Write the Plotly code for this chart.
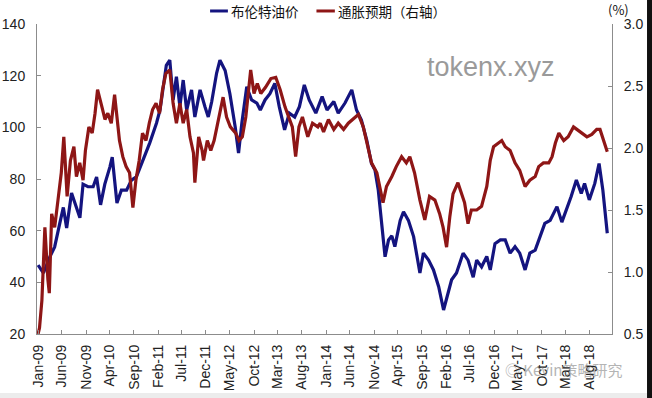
import plotly.graph_objects as go

# ---- Brent oil price (left axis, USD/bbl) ----
brent_dates = [
    "2009-01-01", "2009-02-04", "2009-03-16", "2009-04-16", "2009-05-19", "2009-06-10",
    "2009-07-01", "2009-08-01", "2009-09-01", "2009-09-23", "2009-10-13", "2009-11-13",
    "2009-12-16", "2010-01-07", "2010-02-01", "2010-02-28", "2010-04-01", "2010-04-16",
    "2010-05-16", "2010-06-13", "2010-07-16", "2010-08-16", "2010-09-16", "2010-10-28",
    "2010-12-10", "2011-01-22", "2011-02-13", "2011-03-25", "2011-04-16", "2011-05-07",
    "2011-05-28", "2011-06-19", "2011-07-10", "2011-08-01", "2011-09-01", "2011-09-22",
    "2011-10-25", "2011-11-25", "2011-12-16", "2012-01-07", "2012-02-07", "2012-02-28",
    "2012-04-01", "2012-05-01", "2012-06-04", "2012-06-25", "2012-07-16", "2012-08-16",
    "2012-09-16", "2012-10-19", "2012-11-10", "2012-12-10", "2013-01-10", "2013-02-10",
    "2013-03-10", "2013-04-13", "2013-05-13", "2013-06-16", "2013-07-16", "2013-08-16",
    "2013-09-16", "2013-10-28", "2013-12-07", "2014-01-07", "2014-02-19", "2014-03-19",
    "2014-05-01", "2014-06-13", "2014-07-13", "2014-08-13", "2014-09-16", "2014-10-16",
    "2014-11-07", "2014-11-28", "2014-12-19", "2015-01-10", "2015-02-01", "2015-02-22",
    "2015-03-13", "2015-04-16", "2015-05-07", "2015-06-07", "2015-07-10", "2015-08-19",
    "2015-09-10", "2015-10-13", "2015-11-13", "2015-12-16", "2016-01-16", "2016-02-07",
    "2016-02-25", "2016-03-07", "2016-04-07", "2016-05-19", "2016-06-19", "2016-07-22",
    "2016-08-13", "2016-09-13", "2016-10-16", "2016-11-07", "2016-12-07", "2017-01-10",
    "2017-02-10", "2017-03-13", "2017-04-13", "2017-05-13", "2017-06-16", "2017-07-16",
    "2017-08-19", "2017-09-19", "2017-10-19", "2017-11-22", "2018-01-04", "2018-02-04",
    "2018-03-04", "2018-04-04", "2018-05-07", "2018-06-07", "2018-06-28", "2018-07-28",
    "2018-09-01", "2018-09-28", "2018-10-22", "2018-11-19",
]
brent_values = [
    46.7, 43.6, 49.8, 53.7, 63.0, 69.0,
    61.0, 74.6, 69.0, 65.0, 78.0, 77.0,
    77.0, 80.8, 70.0, 78.0, 84.6, 88.5,
    70.7, 75.7, 75.7, 79.6, 80.8, 87.4,
    94.0, 101.7, 106.7, 124.0, 126.0, 110.6,
    119.6, 108.0, 118.3, 106.7, 114.5, 104.0,
    114.5, 108.0, 104.0, 110.0, 121.0, 126.0,
    122.0, 113.0, 100.0, 90.0, 101.7, 115.7,
    110.6, 109.4, 106.7, 110.6, 113.0, 117.0,
    108.0, 99.0, 105.5, 104.0, 108.0, 116.4,
    110.6, 105.5, 111.9, 106.7, 110.0, 105.5,
    109.4, 114.5, 106.7, 102.8, 95.0, 86.0,
    83.5, 75.7, 64.0, 49.9, 56.4, 58.0,
    53.8, 64.0, 67.3, 64.0, 57.7, 43.6,
    51.3, 48.6, 44.8, 38.3, 29.3, 34.4,
    38.3, 41.0, 43.6, 51.3, 48.6, 42.0,
    48.6, 46.0, 50.0, 44.8, 55.0, 56.4,
    56.4, 51.3, 53.8, 51.3, 44.8, 51.3,
    52.5, 57.7, 62.8, 64.0, 69.3, 63.3,
    67.8, 73.2, 79.6, 74.4, 78.3, 71.9,
    78.3, 86.0, 75.7, 59.0,
]

# ---- Inflation expectation (right axis, %) ----
infl_dates = [
    "2009-01-01", "2009-01-10", "2009-01-25", "2009-02-13", "2009-03-04", "2009-03-13",
    "2009-03-28", "2009-04-16", "2009-05-07", "2009-05-28", "2009-06-13", "2009-07-04",
    "2009-07-25", "2009-08-16", "2009-09-01", "2009-09-22", "2009-10-13", "2009-10-28",
    "2009-11-19", "2009-12-10", "2009-12-28", "2010-01-13", "2010-02-10", "2010-03-01",
    "2010-03-19", "2010-04-10", "2010-05-01", "2010-05-16", "2010-06-01", "2010-06-22",
    "2010-07-13", "2010-08-04", "2010-08-25", "2010-09-13", "2010-10-04", "2010-10-25",
    "2010-11-16", "2010-12-07", "2010-12-28", "2011-01-19", "2011-02-10", "2011-03-01",
    "2011-03-22", "2011-04-16", "2011-05-07", "2011-05-28", "2011-06-19", "2011-07-10",
    "2011-08-01", "2011-08-22", "2011-09-13", "2011-09-22", "2011-10-16", "2011-11-07",
    "2011-11-16", "2011-12-10", "2012-01-01", "2012-01-22", "2012-02-22", "2012-03-19",
    "2012-04-10", "2012-05-04", "2012-06-07", "2012-06-28", "2012-07-19", "2012-08-10",
    "2012-09-10", "2012-10-01", "2012-10-22", "2012-11-13", "2012-12-13", "2013-01-16",
    "2013-02-16", "2013-03-16", "2013-04-16", "2013-05-10", "2013-06-01", "2013-06-22",
    "2013-07-13", "2013-08-04", "2013-09-07", "2013-10-07", "2013-11-10", "2013-11-25",
    "2013-12-16", "2014-01-16", "2014-02-19", "2014-03-19", "2014-04-22", "2014-05-22",
    "2014-06-22", "2014-07-25", "2014-08-25", "2014-09-25", "2014-10-16", "2014-11-19",
    "2014-12-07", "2014-12-28", "2015-01-19", "2015-02-22", "2015-03-22", "2015-04-25",
    "2015-05-25", "2015-06-16", "2015-07-16", "2015-08-19", "2015-09-19", "2015-10-19",
    "2015-11-22", "2015-12-22", "2016-01-13", "2016-02-04", "2016-02-25", "2016-03-16",
    "2016-04-16", "2016-05-07", "2016-05-28", "2016-06-19", "2016-07-10", "2016-08-13",
    "2016-09-13", "2016-10-16", "2016-11-07", "2016-11-28", "2016-12-28", "2017-01-19",
    "2017-02-10", "2017-03-13", "2017-04-13", "2017-05-13", "2017-06-16", "2017-07-16",
    "2017-08-19", "2017-09-10", "2017-10-10", "2017-11-13", "2017-12-04", "2017-12-25",
    "2018-01-16", "2018-02-16", "2018-03-16", "2018-04-19", "2018-05-10", "2018-06-10",
    "2018-07-13", "2018-08-13", "2018-09-13", "2018-10-04", "2018-11-01", "2018-11-19",
]
infl_values = [
    0.50, 0.55, 0.77, 1.36, 0.94, 0.83,
    1.47, 1.36, 1.58, 1.80, 2.09, 1.61,
    1.90, 2.01, 1.77, 1.88, 1.74, 1.98,
    2.17, 2.12, 2.28, 2.47, 2.33, 2.23,
    2.28, 2.20, 2.43, 2.26, 2.06, 1.93,
    1.85, 1.80, 1.52, 1.74, 1.90, 2.12,
    2.06, 2.20, 2.31, 2.36, 2.28, 2.47,
    2.60, 2.63, 2.36, 2.20, 2.36, 2.20,
    2.31, 2.09, 1.96, 1.72, 2.09, 1.98,
    1.90, 2.06, 1.98, 2.06, 2.25, 2.41,
    2.25, 2.17, 2.12, 2.06, 2.09, 2.25,
    2.63, 2.44, 2.52, 2.44, 2.49, 2.56,
    2.57, 2.47, 2.33, 2.25, 2.17, 1.93,
    2.17, 2.25, 2.09, 2.20, 2.17, 2.20,
    2.13, 2.23, 2.15, 2.20, 2.15, 2.20,
    2.23, 2.27, 2.17, 1.98, 1.88, 1.80,
    1.69, 1.56, 1.69, 1.77, 1.85, 1.93,
    1.88, 1.93, 1.80, 1.58, 1.42, 1.61,
    1.58, 1.47, 1.36, 1.20, 1.45, 1.63,
    1.72, 1.63, 1.56, 1.39, 1.50, 1.50,
    1.53, 1.69, 1.90, 2.01, 2.04, 2.06,
    2.01, 1.98, 1.88, 1.82, 1.69, 1.74,
    1.77, 1.85, 1.88, 1.88, 1.93, 2.04,
    2.12, 2.06, 2.09, 2.17, 2.15, 2.12,
    2.09, 2.11, 2.15, 2.15, 2.04, 1.97,
]

series_names = ["布伦特油价", "通胀预期（右轴）"]
left_ticks = [20, 40, 60, 80, 100, 120, 140]
right_ticks = [0.5, 1.0, 1.5, 2.0, 2.5, 3.0]

BLUE = "#14147f"
RED = "#8e1616"
AXIS = "#8c8c8c"
TICKFONT = dict(family="Liberation Sans, Arial, sans-serif", size=14, color="#222222")
CJK = "Noto Sans CJK SC, sans-serif"

fig = go.Figure()
fig.add_trace(go.Scatter(x=brent_dates, y=brent_values, mode="lines",
                         line=dict(color=BLUE, width=3.2), name=series_names[0],
                         yaxis="y"))
fig.add_trace(go.Scatter(x=infl_dates, y=infl_values, mode="lines",
                         line=dict(color=RED, width=3.2), name=series_names[1],
                         yaxis="y2"))

fig.update_layout(
    width=652, height=398,
    margin=dict(l=37, r=40, t=24, b=64),
    paper_bgcolor="white", plot_bgcolor="white",
    showlegend=False, hovermode=False,
    xaxis=dict(
        type="date", range=["2008-12-25", "2018-12-19"],
        tick0="2009-01-01", dtick="M5", tickformat="%b-%y", tickangle=-90,
        ticks="inside", ticklen=4, tickcolor=AXIS,
        showline=True, linecolor=AXIS, linewidth=1, showgrid=False, zeroline=False,
        tickfont=TICKFONT, ticklabelstandoff=4, automargin=False,
    ),
    yaxis=dict(
        range=[20, 140], tickvals=left_ticks,
        ticks="inside", ticklen=4, tickcolor=AXIS,
        showline=True, linecolor=AXIS, linewidth=1, showgrid=False, zeroline=False,
        tickfont=TICKFONT, ticklabelstandoff=8, automargin=False,
    ),
    yaxis2=dict(
        range=[0.5, 3.0], tickvals=right_ticks, tickformat=".1f",
        overlaying="y", side="right",
        ticks="inside", ticklen=4, tickcolor=AXIS,
        showline=True, linecolor=AXIS, linewidth=1, showgrid=False, zeroline=False,
        tickfont=TICKFONT, ticklabelstandoff=8, automargin=False,
    ),
)

# manual legend
legend_items = [(0.301, 0.332, series_names[0], BLUE), (0.486, 0.518, series_names[1], RED)]
for x0, x1, label, col in legend_items:
    fig.add_shape(type="line", xref="paper", yref="paper", x0=x0, x1=x1, y0=1.042, y1=1.042,
                  line=dict(color=col, width=3))
    fig.add_annotation(xref="paper", yref="paper", x=x1 + 0.002, y=1.042, text=label,
                       showarrow=False, xanchor="left", yanchor="middle",
                       font=dict(family=CJK, size=13.5, color="#111111"))

fig.add_annotation(xref="paper", yref="paper", x=1.012, y=1.048, text="(%)",
                   showarrow=False, xanchor="center", yanchor="middle",
                   font=dict(family=CJK, size=13, color="#111111"))

# watermarks
fig.add_annotation(xref="paper", yref="paper", x=0.79, y=0.86, text="tokenx.xyz",
                   showarrow=False, xanchor="center", yanchor="middle",
                   font=dict(family="Liberation Sans, Arial, sans-serif", size=27, color="#9a9a9a"))
fig.add_annotation(xref="paper", yref="paper", x=0.915, y=-0.113, text="◎ Kevin策略研究",
                   showarrow=False, xanchor="center", yanchor="middle", opacity=0.55,
                   font=dict(family=CJK, size=15, color="#777777"))

# image border artefacts: dark strip on right edge, light band at bottom
fig.add_shape(type="rect", xref="paper", yref="paper", x0=1.0609, x1=1.08, y0=-0.21, y1=1.08,
              line=dict(width=0), fillcolor="#111111", layer="above")
fig.add_shape(type="rect", xref="paper", yref="paper", x0=-0.07, x1=1.0609, y0=-0.21, y1=-0.19,
              line=dict(width=0), fillcolor="#ececec", layer="above")

fig.write_html(
    "out.html",
    config={"displayModeBar": False, "staticPlot": True},
    post_script="document.body.style.margin='0px';document.body.style.overflow='hidden';",
)
